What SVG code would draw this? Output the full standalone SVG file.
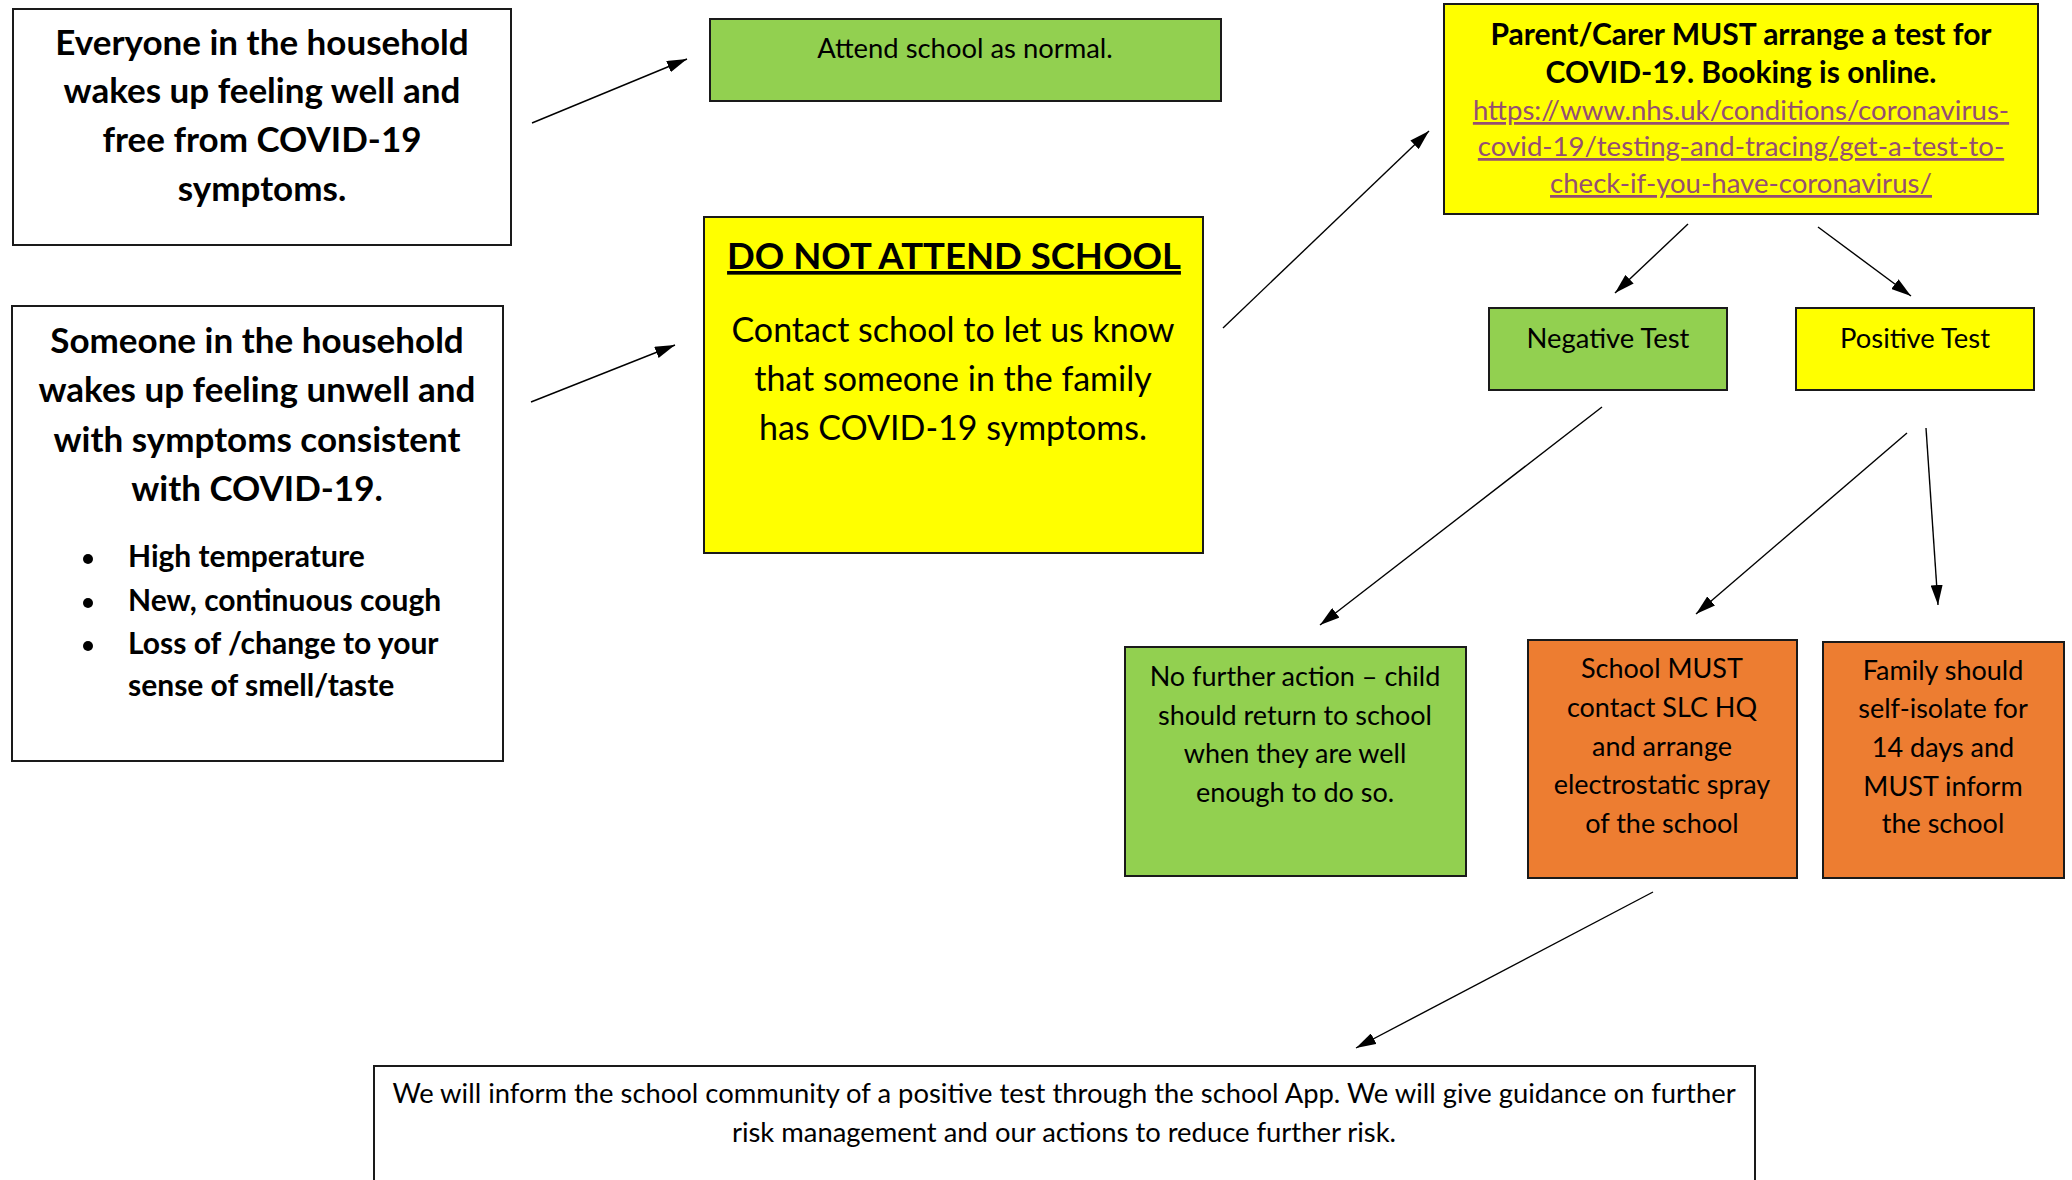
<svg xmlns="http://www.w3.org/2000/svg" width="2072" height="1180" viewBox="0 0 2072 1180">
<defs>
<style>
.box{stroke:#1a1a1a;stroke-width:2}
.white{fill:#fff}
.green{fill:#92D050}
.yellow{fill:#FFFF00}
.orange{fill:#ED7D31}
text{font-family:Lato,"Open Sans","Liberation Sans",sans-serif;fill:#000;text-anchor:middle}
.h{font-weight:bold;font-size:35px}
.b{font-weight:bold;font-size:30px;text-anchor:start}
.r27{font-size:27.4px}
.r25{font-size:27px}
.title{font-weight:bold;font-size:36.5px;text-decoration:underline}
.body{font-size:34px}
.pb{font-weight:bold;font-size:30px}
.link{font-size:27.6px;fill:#954F72;text-decoration:underline}
.conn line{stroke:#000;stroke-width:1.4;fill:none;marker-end:url(#ah)}
</style>
<marker id="ah" viewBox="0 0 20 12" refX="20" refY="6" markerWidth="20" markerHeight="12" markerUnits="userSpaceOnUse" orient="auto">
<path d="M0,0 L20,6 L0,12 z" fill="#000"/>
</marker>
</defs>
<rect width="2072" height="1180" fill="#fff"/>

<g id="well">
<rect class="box white" x="13" y="9" width="498" height="236"/>
<text class="h" x="262" y="55">Everyone in the household</text>
<text class="h" x="262" y="103">wakes up feeling well and</text>
<text class="h" x="262" y="152">free from COVID-19</text>
<text class="h" x="262" y="201">symptoms.</text>
</g>

<g id="unwell">
<rect class="box white" x="12" y="306" width="491" height="455"/>
<text class="h" x="257" y="353">Someone in the household</text>
<text class="h" x="257" y="402">wakes up feeling unwell and</text>
<text class="h" x="257" y="452">with symptoms consistent</text>
<text class="h" x="257" y="501">with COVID-19.</text>
<circle cx="88" cy="559" r="5"/>
<circle cx="88" cy="603" r="5"/>
<circle cx="88" cy="646" r="5"/>
<text class="b" x="128" y="567">High temperature</text>
<text class="b" x="128" y="611">New, continuous cough</text>
<text class="b" x="128" y="654">Loss of /change to your</text>
<text class="b" x="128" y="696">sense of smell/taste</text>
</g>

<g id="attend">
<rect class="box green" x="710" y="19" width="511" height="82"/>
<text class="r27" x="965" y="58">Attend school as normal.</text>
</g>

<g id="donot">
<rect class="box yellow" x="704" y="217" width="499" height="336"/>
<text class="title" x="954" y="269">DO NOT ATTEND SCHOOL</text>
<text class="body" x="953" y="342">Contact school to let us know</text>
<text class="body" x="953" y="391">that someone in the family</text>
<text class="body" x="953" y="440">has COVID-19 symptoms.</text>
</g>

<g id="test">
<rect class="box yellow" x="1444" y="4" width="594" height="210"/>
<text class="pb" x="1741" y="45">Parent/Carer MUST arrange a test for</text>
<text class="pb" x="1741" y="83">COVID-19. Booking is online.</text>
<text class="link" x="1741" y="120">https://www.nhs.uk/conditions/coronavirus-</text>
<text class="link" x="1741" y="156">covid-19/testing-and-tracing/get-a-test-to-</text>
<text class="link" x="1741" y="193">check-if-you-have-coronavirus/</text>
</g>

<g id="negative">
<rect class="box green" x="1489" y="308" width="238" height="82"/>
<text class="r27" x="1608" y="348">Negative Test</text>
</g>

<g id="positive">
<rect class="box yellow" x="1796" y="308" width="238" height="82"/>
<text class="r27" x="1915" y="348">Positive Test</text>
</g>

<g id="nofurther">
<rect class="box green" x="1125" y="647" width="341" height="229"/>
<text class="r25" x="1295" y="686">No further action – child</text>
<text class="r25" x="1295" y="725">should return to school</text>
<text class="r25" x="1295" y="763">when they are well</text>
<text class="r25" x="1295" y="802">enough to do so.</text>
</g>

<g id="schoolmust">
<rect class="box orange" x="1528" y="640" width="269" height="238"/>
<text class="r25" x="1662" y="678">School MUST</text>
<text class="r25" x="1662" y="717">contact SLC HQ</text>
<text class="r25" x="1662" y="756">and arrange</text>
<text class="r25" x="1662" y="794">electrostatic spray</text>
<text class="r25" x="1662" y="833">of the school</text>
</g>

<g id="family">
<rect class="box orange" x="1823" y="642" width="241" height="236"/>
<text class="r25" x="1943" y="680">Family should</text>
<text class="r25" x="1943" y="718">self-isolate for</text>
<text class="r25" x="1943" y="757">14 days and</text>
<text class="r25" x="1943" y="796">MUST inform</text>
<text class="r25" x="1943" y="833">the school</text>
</g>

<g id="inform">
<rect class="box white" x="374" y="1066" width="1381" height="140"/>
<text class="r27" x="1064" y="1103">We will inform the school community of a positive test through the school App. We will give guidance on further</text>
<text class="r27" x="1064" y="1142">risk management and our actions to reduce further risk.</text>
</g>

<g class="conn" id="connectors">
<line x1="532" y1="123" x2="687" y2="59"/>
<line x1="531" y1="402" x2="675" y2="345"/>
<line x1="1223" y1="328" x2="1429" y2="131"/>
<line x1="1688" y1="224" x2="1615" y2="293"/>
<line x1="1818" y1="227" x2="1911" y2="296"/>
<line x1="1602" y1="407" x2="1320" y2="625"/>
<line x1="1907" y1="433" x2="1696" y2="614"/>
<line x1="1926" y1="428" x2="1938" y2="605"/>
<line x1="1653" y1="892" x2="1356" y2="1048"/>
</g>
</svg>
